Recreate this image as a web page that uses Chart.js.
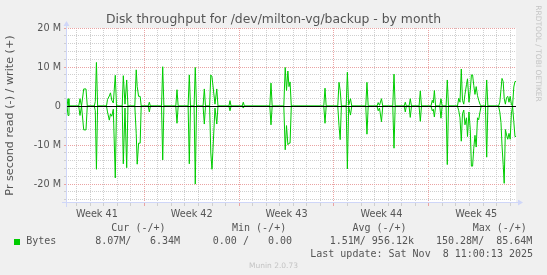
<!DOCTYPE html>
<html lang="en">
<head>
<meta charset="utf-8">
<title>Disk throughput for /dev/milton-vg/backup - by month</title>
<script src="https://cdn.jsdelivr.net/npm/chart.js"></script>
<style>
  html, body { margin: 0; padding: 0; background: #f0f0f0; }
  #chart { display: block; }
</style>
</head>
<body>
<canvas id="chart" width="547" height="275"></canvas>
<script>
// hours since Mon 13 Oct 00:00, one row per burst (zeros around each one)
const hours = [
  -138.7,
  -136.9, -135.1, -133.4,
  -116.2, -113.9, -111.2, -107.3, -103.3, -101.0,
  -88.6, -86.8, -84.8, -82.7,
  -67.0, -65.2, -62.0, -59.9, -57.6, -54.9, -51.4, -49.2,
  -39.1, -37.2, -34.2, -31.2, -29.0,
  -16.8, -14.3, -12.6, -10.1, -7.3, -5.5,
  6.9, 8.9, 10.8,
  30.5, 32.6, 34.7,
  55.8, 57.9, 60.0,
  77.6, 79.7, 81.8,
  88.2, 90.3, 92.5,
  104.1, 106.3, 108.4,
  115.7, 117.8, 119.9, 125.2, 128.4, 130.5,
  149.8, 151.8, 153.7,
  173.4, 175.3, 177.3,
  222.3, 224.4, 226.5,
  247.1, 249.6, 251.9, 254.3, 256.3, 258.2, 260.4,
  317.9, 320.1, 322.2,
  342.7, 344.9, 347.0, 349.1,
  357.6, 359.7, 362.0, 365.2, 367.5,
  392.3, 394.4, 396.6,
  412.2, 414.3, 416.6, 420.1, 422.4,
  440.1, 442.3, 444.4,
  460.3, 462.3, 464.2,
  469.0, 471.1, 473.3,
  486.7, 488.9, 491.0,
  507.8, 510.1, 511.9, 513.8, 516.0,
  523.4, 525.5, 527.6,
  534.6, 536.7, 538.8,
  554.7, 557.0, 559.2, 561.5, 563.6, 565.9, 568.0, 570.7, 572.5, 575.1,
  577.4, 579.4, 581.5, 583.6, 585.7, 587.9, 590.2, 592.3, 594.6, 596.7,
  604.3, 606.5, 608.6,
  627.4, 629.7, 631.8, 633.6, 635.7, 637.5, 639.6, 641.7, 643.8, 646.0,
  648.1, 650.2, 652.3, 654.5, 656.6, 658.4
];

// write (+), MB/s
const writeM = [
  0,
  0, 1.9, 0,
  0, 1.9, 0, 4.4, 4.4, 0,
  0, 1.2, 11.2, 0,
  0, 1.7, 2.6, 3.4, 1.5, 0.8, 7.9, 0,
  0, 7.8, 0.5, 6.7, 0,
  0, 9.3, 5.0, 2.5, 2.5, 0,
  0, 1.0, 0,
  0, 10.1, 0,
  0, 4.2, 0,
  0, 8.0, 0,
  0, 9.9, 0,
  0, 4.4, 0,
  0, 8.0, 7.5, 0.5, 4.4, 0,
  0, 1.4, 0,
  0, 1.0, 0,
  0, 5.9, 0,
  0, 9.9, 4.0, 9.0, 5.0, 6.2, 0,
  0, 4.6, 0,
  0, 6.1, 4.0, 0,
  0, 8.7, 0.2, 1.9, 0,
  0, 6.1, 0,
  0, 0.9, 0.2, 1.9, 0,
  0, 8.2, 0,
  0, 1.0, 0,
  0, 1.9, 0,
  0, 3.9, 0,
  0, 1.5, 0.8, 4.0, 0,
  0, 1.9, 0,
  0, 6.7, 0,
  0, 2.0, 1.0, 9.5, 1.5, 0.5, 3.0, 5.5, 7.0, 1.0,
  4.0, 8.0, 8.0, 5.3, 3.0, 5.0, 2.7, 1.5, 0.5, 0,
  0, 6.7, 0,
  0, 1.0, 4.2, 7.1, 6.3, 2.0, 0.5, 2.2, 2.5, 1.0,
  2.5, 0.5, 0, 4.9, 6.3, 6.3
];

// read (-), MB/s
const readM = [
  0,
  0, -2.4, 0,
  0, -2.4, 0, -6.1, -6.1, 0,
  0, -1.2, -16.2, 0,
  0, -1.5, -3.6, -2.0, -2.6, -0.8, -18.4, 0,
  0, -14.8, -0.5, -15.8, 0,
  0, -7.0, -14.9, -9.5, -9.5, 0,
  0, -1.5, 0,
  0, -13.8, 0,
  0, -4.4, 0,
  0, -14.8, 0,
  0, -20.0, 0,
  0, -4.6, 0,
  0, -12.0, -16.2, -0.5, -4.6, 0,
  0, -1.2, 0,
  0, -0.5, 0,
  0, -4.8, 0,
  0, -11.2, -5.0, -9.9, -9.5, -9.5, 0,
  0, -4.4, 0,
  0, -5.0, -8.6, 0,
  0, -16.1, -0.2, -2.3, 0,
  0, -7.2, 0,
  0, -1.2, -0.5, -4.0, 0,
  0, -10.8, 0,
  0, -1.5, 0,
  0, -2.9, 0,
  0, -3.9, 0,
  0, -1.2, -0.8, -2.8, 0,
  0, -3.1, 0,
  0, -15.0, 0,
  0, -1.2, -3.0, -9.0, -2.0, -1.0, -4.8, -3.0, -7.8, -1.5,
  -6.0, -15.4, -15.4, -10.8, -7.5, -10.5, -3.0, -3.5, -1.5, 0,
  0, -13.1, 0,
  0, -1.5, -4.2, -10.0, -15.0, -19.8, -6.0, -7.4, -8.5, -7.0,
  -8.5, -2.0, 0, -4.0, -7.8, -7.8
];

const weekCenters = [-84, 84, 252, 420, 588];
const weekLabels = ['Week 41', 'Week 42', 'Week 43', 'Week 44', 'Week 45'];

const legendHeads = ['Cur (-/+)', 'Min (-/+)', 'Avg (-/+)', 'Max (-/+)'];
const legendValues = ['8.07M/', '6.34M', '0.00 /', '0.00', '1.51M/ 956.12k', '150.28M/  85.64M'];
const lastUpdate = 'Last update: Sat Nov  8 11:00:13 2025';

const GRID = '#cfcfcf';
const MGRID = '#eaa3a3';
const AXIS = '#cfd6f8';
const FONT = '#555555';
const LINE = '#00cc00';

function vGridColor(v) {
  if (v % 24 !== 0) return 'rgba(0,0,0,0)';
  return v % 168 === 0 ? MGRID : GRID;
}
function hGridColor(v) {
  if (v === 0) return 'rgba(0,0,0,0)';
  return v % 10 === 0 ? MGRID : GRID;
}

// background, zero line, axis arrows and the rrdtool style texts
const muninDecor = {
  id: 'muninDecor',
  beforeDraw(chart) {
    const { ctx, chartArea: a } = chart;
    ctx.save();
    ctx.fillStyle = '#f0f0f0';
    ctx.fillRect(0, 0, chart.width, chart.height);
    ctx.fillStyle = '#ffffff';
    ctx.fillRect(a.left, a.top, a.right - a.left, a.bottom - a.top);
    ctx.restore();
  },
  afterDatasetsDraw(chart) {
    const { ctx, chartArea: a, scales } = chart;
    const y0 = Math.round(scales.y.getPixelForValue(0)) + 0.5;
    ctx.save();
    ctx.strokeStyle = '#000000';
    ctx.lineWidth = 1;
    ctx.beginPath();
    ctx.moveTo(a.left, y0);
    ctx.lineTo(a.right, y0);
    ctx.stroke();
    ctx.restore();
  },
  afterDraw(chart) {
    const { ctx, chartArea: a } = chart;
    const L = a.left + 0.5, B = a.bottom - 0.5;
    ctx.save();
    // axes
    ctx.strokeStyle = AXIS;
    ctx.fillStyle = AXIS;
    ctx.lineWidth = 1;
    ctx.beginPath();
    ctx.moveTo(a.left - 4, B); ctx.lineTo(a.right + 4, B);
    ctx.moveTo(L, a.bottom + 4); ctx.lineTo(L, a.top - 4);
    ctx.stroke();
    ctx.beginPath();
    ctx.moveTo(a.right + 2, B - 3); ctx.lineTo(a.right + 2, B + 3); ctx.lineTo(a.right + 7, B);
    ctx.closePath(); ctx.fill();
    ctx.beginPath();
    ctx.moveTo(L - 3, a.top - 2); ctx.lineTo(L + 3, a.top - 2); ctx.lineTo(L, a.top - 7);
    ctx.closePath(); ctx.fill();

    // title
    ctx.fillStyle = FONT;
    ctx.textBaseline = 'middle';
    ctx.textAlign = 'center';
    ctx.font = '12.4px "DejaVu Sans"';
    ctx.fillText('Disk throughput for /dev/milton-vg/backup - by month', 273.5, 20);

    // legend
    ctx.textAlign = 'left';
    ctx.font = '10px "DejaVu Sans Mono"';
    [111.3, 232, 352.4, 472.7].forEach((x, i) => ctx.fillText(legendHeads[i], x, 228.6));
    ctx.fillText('Bytes', 26.2, 241.9);
    [95.2, 150, 212.8, 268, 329.7, 436].forEach((x, i) => ctx.fillText(legendValues[i], x, 241.9));
    ctx.textAlign = 'right';
    ctx.fillText(lastUpdate, 533, 254);
    ctx.fillStyle = LINE;
    ctx.fillRect(14, 239, 6, 6);

    // footer and watermark
    ctx.fillStyle = '#c4c4c4';
    ctx.textAlign = 'center';
    ctx.font = '7.5px "DejaVu Sans"';
    ctx.fillText('Munin 2.0.73', 273.5, 265.6);
    ctx.translate(537.5, 53.5);
    ctx.rotate(Math.PI / 2);
    ctx.fillText('RRDTOOL / TOBI OETIKER', 0, 0);
    ctx.restore();
  }
};

const ctx = document.getElementById('chart').getContext('2d');
new Chart(ctx, {
  type: 'line',
  data: {
    datasets: [
      { label: 'write', data: hours.map((h, i) => ({ x: h, y: writeM[i] })) },
      { label: 'read', data: hours.map((h, i) => ({ x: h, y: readM[i] })) }
    ]
  },
  options: {
    responsive: false,
    animation: false,
    devicePixelRatio: 1,
    layout: { padding: { left: 0, top: 28, right: 31, bottom: 0 } },
    elements: {
      line: { borderColor: LINE, borderWidth: 1, tension: 0, borderJoinStyle: 'round', fill: false },
      point: { radius: 0, hoverRadius: 0 }
    },
    plugins: { legend: { display: false }, tooltip: { enabled: false }, title: { display: false } },
    scales: {
      x: {
        type: 'linear',
        min: -138.7,
        max: 658.4,
        afterFit: s => { s.height = 72; },
        afterBuildTicks: s => {
          const t = [];
          for (let h = Math.ceil(s.min / 12) * 12; h <= s.max; h += 12) t.push({ value: h });
          s.ticks = t;
        },
        ticks: {
          autoSkip: false, maxRotation: 0, padding: 3, color: FONT,
          font: { family: 'DejaVu Sans', size: 9.7 },
          callback: v => { const i = weekCenters.indexOf(v); return i < 0 ? '' : weekLabels[i]; }
        },
        grid: {
          color: c => c.tick ? vGridColor(c.tick.value) : 'rgba(0,0,0,0)',
          tickColor: c => c.tick ? vGridColor(c.tick.value) : 'rgba(0,0,0,0)',
          lineWidth: 1, tickLength: 3, tickBorderDash: []
        },
        border: { display: false, dash: [1, 1] }
      },
      y: {
        type: 'linear',
        min: -24.85,
        max: 20.03,
        afterFit: s => { s.width = 66; },
        afterBuildTicks: s => {
          const t = [];
          for (let v = Math.ceil(s.min / 2) * 2; v <= s.max; v += 2) t.push({ value: v });
          s.ticks = t;
        },
        ticks: {
          autoSkip: false, padding: 3, color: FONT,
          font: { family: 'DejaVu Sans', size: 9.7 },
          callback: v => v % 10 === 0 ? (v === 0 ? '0' : v + ' M') : ''
        },
        grid: {
          color: c => c.tick ? hGridColor(c.tick.value) : 'rgba(0,0,0,0)',
          tickColor: c => c.tick ? hGridColor(c.tick.value) : 'rgba(0,0,0,0)',
          lineWidth: 1, tickLength: 2, tickBorderDash: []
        },
        border: { display: false, dash: [1, 1] },
        title: {
          display: true, text: 'Pr second read (-) / write (+)', color: FONT,
          font: { family: 'DejaVu Sans', size: 11.2 }, padding: { top: 3.3, bottom: 0 }
        }
      }
    }
  },
  plugins: [muninDecor]
});
</script>
</body>
</html>
